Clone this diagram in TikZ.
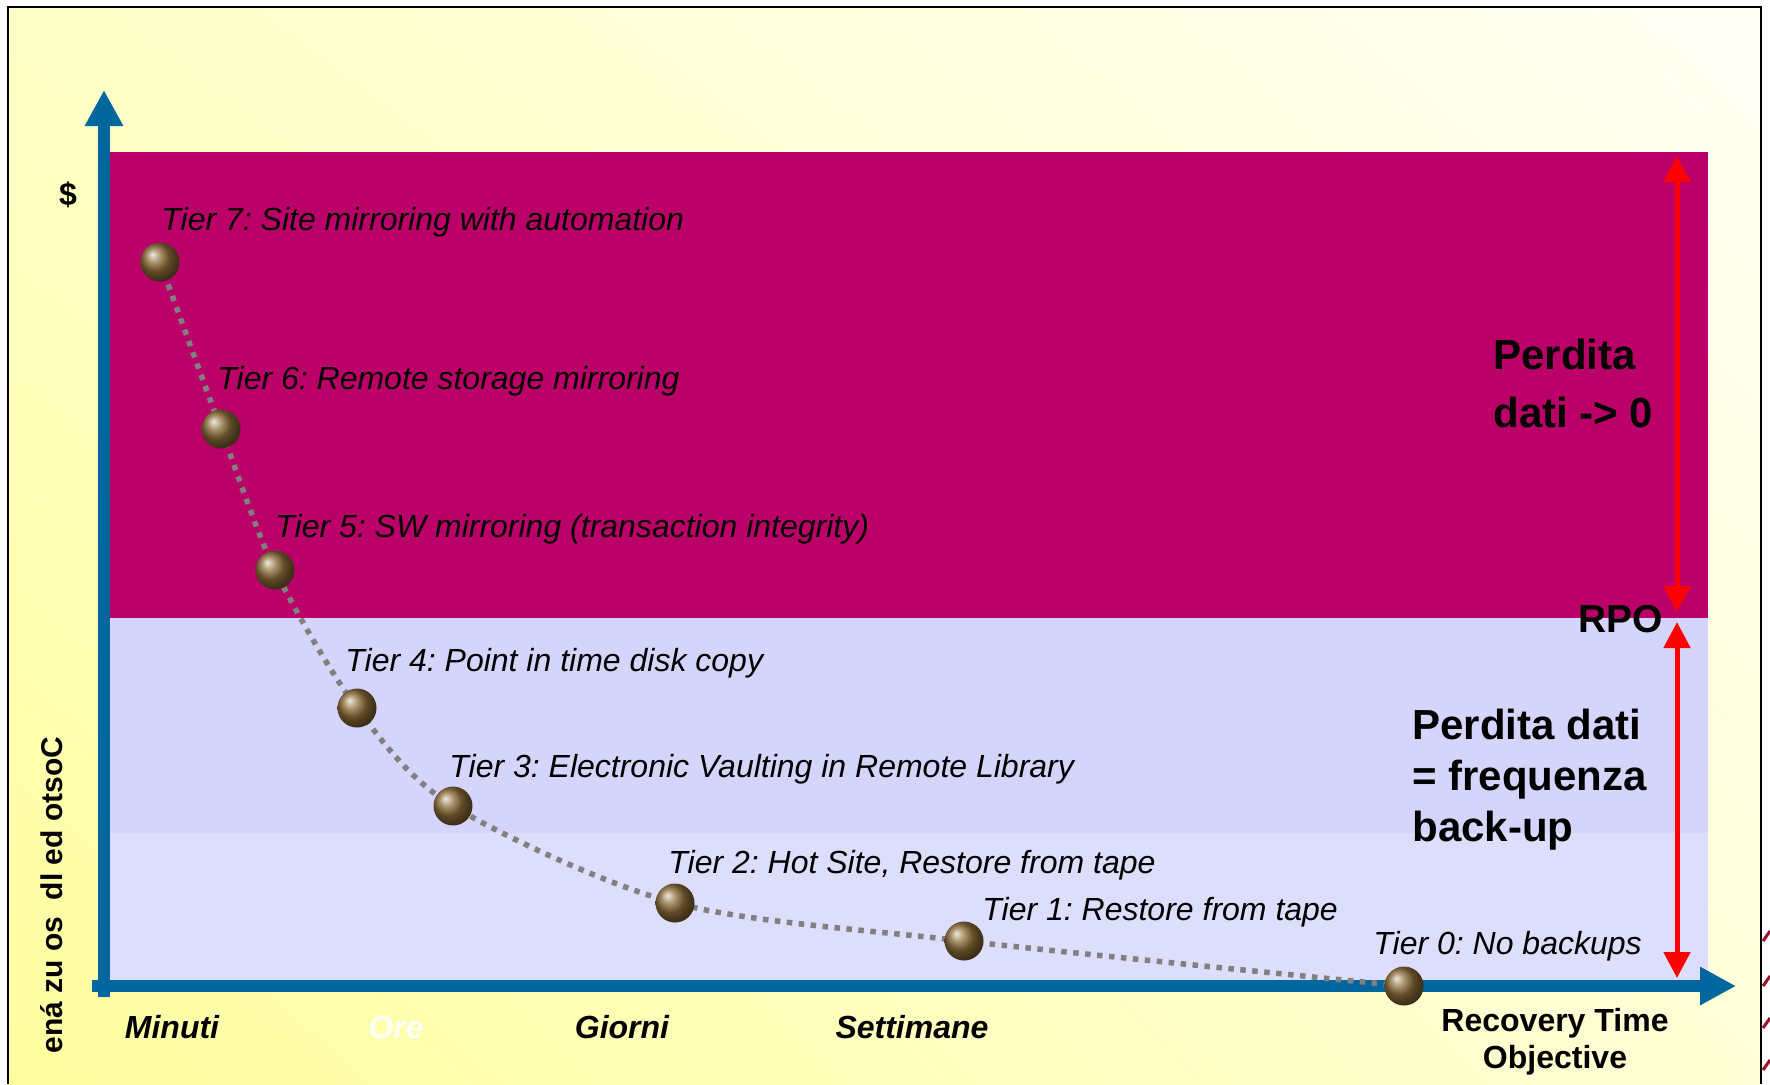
\documentclass[tikz,border=0pt]{standalone}
\usepackage{fontspec}
\setmainfont{Liberation Sans}
\frenchspacing
\usetikzlibrary{positioning,arrows.meta,shadings}
\definecolor{axisblue}{RGB}{0,102,158}
\definecolor{tiermag}{RGB}{186,0,104}
\definecolor{lavtop}{RGB}{213,213,252}
\definecolor{lavlow}{RGB}{221,221,252}
\definecolor{bronze}{RGB}{140,108,56}
\definecolor{bgBL}{RGB}{255,255,160}
\definecolor{bgTL}{RGB}{255,255,200}
\definecolor{bgBR}{RGB}{255,255,215}
\definecolor{bgTR}{RGB}{255,255,246}
\definecolor{swirl}{RGB}{150,20,40}
\tikzset{
  axis/.style={draw=axisblue, line width=6pt, -{Triangle[length=18pt,width=18pt]}},
  rpoArrow/.style={draw=red, line width=2.5pt, {Triangle[length=13pt,width=13pt]}-{Triangle[length=13pt,width=13pt]}},
  ball/.style={circle, inner sep=0pt, minimum size=19.5pt, ball color=bronze},
  curveDots/.style={draw=gray, line width=2.75pt, dash pattern=on 2.75pt off 3.25pt},
  tier/.style={anchor=base west, inner sep=0pt, font=\fontsize{16}{19}\selectfont\itshape},
  tick/.style={anchor=base, inner sep=0pt, font=\fontsize{16}{19}\selectfont\bfseries\itshape},
  rto/.style={anchor=base, inner sep=0pt, font=\fontsize{16}{19}\selectfont\bfseries},
  big/.style={anchor=north west, align=left, inner sep=0pt}
}
\begin{document}
\begin{tikzpicture}[x=0.5pt, y=-0.5pt]
  \useasboundingbox (0,0) rectangle (1770,1084);
  \fill[white] (0,0) rectangle (1770,1084);
  % slide background
  \shade[upper left=bgTL, upper right=bgTR, lower left=bgBL, lower right=bgBR]
    (8,7) rectangle (1761,1084);
  \draw[black, line width=1pt] (8,1084) -- (8,7) -- (1761,7) -- (1761,1084);
  \foreach \y in {935,980,1022,1064}
    \draw[swirl, line width=1.5pt] (1763,\y+6) -- (1770,\y-4);

  % zones
  \fill[tiermag] (110,152) rectangle (1708,618);
  \fill[lavtop] (110,618) rectangle (1708,833);
  \fill[lavlow] (110,833) rectangle (1708,980);

  % axes
  \coordinate (ybot) at (104,997);
  \coordinate (ytip) at (104,90);
  \coordinate (xleft) at (92,986);
  \coordinate (xtip) at (1736,986);
  \draw[axis] (ybot) -- (ytip);
  \draw[axis] (xleft) -- (xtip);

  % RPO arrows
  \coordinate (lossTop) at (1677,156);
  \coordinate (rpoUp) at (1677,612);
  \coordinate (rpoLow) at (1677,622);
  \coordinate (lossBot) at (1677,978);
  \draw[rpoArrow] (rpoUp) -- (lossTop);
  \draw[rpoArrow] (rpoLow) -- (lossBot);

  % tiers
  \coordinate (c7) at (160,262);
  \coordinate (c6) at (221,429);
  \coordinate (c5) at (275,570);
  \coordinate (c4) at (357,708);
  \coordinate (c3) at (453,806);
  \coordinate (c2) at (675,903);
  \coordinate (c1) at (964,941);
  \coordinate (c0) at (1404,986);
  \draw[curveDots] plot[smooth] coordinates {(c7) (c6) (c5) (c4) (c3) (c2) (c1) (c0)};
  \foreach \i in {0,...,7}
    \node[ball] (t\i) at (c\i) {};

  \node[tier] (l7) at (161,230) {Tier 7: Site mirroring with automation};
  \node[tier] (l6) at (217,389) {Tier 6: Remote storage mirroring};
  \node[tier] (l5) at (275,537) {Tier 5: SW mirroring (transaction integrity)};
  \node[tier] (l4) at (345,671) {Tier 4: Point in time disk copy};
  \node[tier] (l3) at (449,777) {Tier 3: Electronic Vaulting in Remote Library};
  \node[tier] (l2) at (668,873) {Tier 2: Hot Site, Restore from tape};
  \node[tier] (l1) at (982,920) {Tier 1: Restore from tape};
  \node[tier] (l0) at (1373,954) {Tier 0: No backups};

  % right side texts
  \node[big, font=\fontsize{21}{29}\selectfont\bfseries] (loss0) at (1493,339) {Perdita\\dati -> 0};
  \node[anchor=base west, inner sep=0pt, font=\fontsize{19.5}{23}\selectfont\bfseries] (rpo) at (1578,632) {RPO};
  \node[big, font=\fontsize{21}{25.5}\selectfont\bfseries] (lossFreq) at (1412,709) {Perdita dati\\= frequenza\\back-up};

  % axis labels
  \node[anchor=base, inner sep=0pt, font=\fontsize{16}{19}\selectfont\bfseries] (cost) at (68,205) {\$};
  \node[rotate=90, inner sep=0pt, font=\fontsize{15}{18}\selectfont\bfseries] (costAxis) at (52,895) {ená zu os\ \ dl ed otsoC};
  \node[tick] (minuti) at (172,1038) {Minuti};
  \node[tick, text=white] (ore) at (396,1038) {Ore};
  \node[tick] (giorni) at (622,1038) {Giorni};
  \node[tick] (settimane) at (912,1038) {Settimane};
  \node[rto] (rto1) at (1555,1031) {Recovery Time};
  \node[rto] (rto2) at (1555,1068) {Objective};
\end{tikzpicture}
\end{document}
